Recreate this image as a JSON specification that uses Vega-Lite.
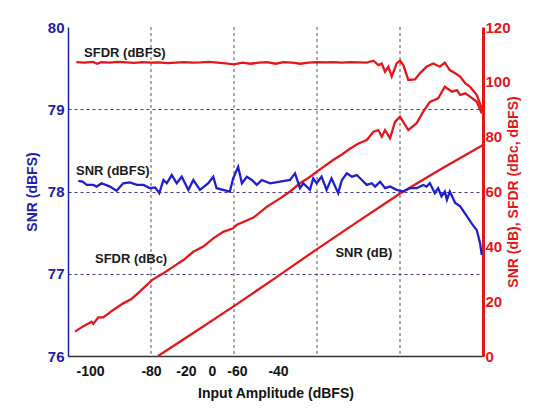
{
  "$schema": "https://vega.github.io/schema/vega-lite/v6.json",
  "width": 415,
  "height": 329,
  "autosize": {"type": "none"},
  "padding": {"left": 68, "top": 27, "right": 71, "bottom": 56},
  "background": "white",
  "config": {"view": {"stroke": null}, "font": "Liberation Sans"},
  "datasets": {
    "grid": [{"x": -80}, {"x": -60}, {"x": -40}, {"x": -20}],
    "labels": [
      {"label": "SFDR (dBFS)", "x": -86.3, "v": 110.5},
      {"label": "SNR (dBFS)", "x": -89.2, "v": 67.5},
      {"label": "SFDR (dBc)", "x": -84.8, "v": 35.4},
      {"label": "SNR (dB)", "x": -28.7, "v": 37.6}
    ],
    "snr_dbfs": [
      {"x": -97.5, "v": 78.13}, {"x": -96.5, "v": 78.12}, {"x": -95.5, "v": 78.08}, {"x": -93.9, "v": 78.08},
      {"x": -93.1, "v": 78.06}, {"x": -91.9, "v": 78.10}, {"x": -89.9, "v": 78.06}, {"x": -88.3, "v": 78.01},
      {"x": -86.7, "v": 78.10}, {"x": -85.1, "v": 78.11}, {"x": -83.4, "v": 78.08}, {"x": -81.8, "v": 78.08},
      {"x": -80.2, "v": 78.04}, {"x": -79.0, "v": 78.05}, {"x": -78.0, "v": 77.98}, {"x": -77.0, "v": 78.14},
      {"x": -76.2, "v": 78.10}, {"x": -75.0, "v": 78.20}, {"x": -73.8, "v": 78.10}, {"x": -72.6, "v": 78.18},
      {"x": -71.0, "v": 78.02}, {"x": -69.8, "v": 78.14}, {"x": -69.0, "v": 78.08}, {"x": -68.2, "v": 78.02},
      {"x": -66.2, "v": 78.10}, {"x": -65.0, "v": 78.18}, {"x": -64.2, "v": 78.04}, {"x": -61.0, "v": 78.00},
      {"x": -60.2, "v": 78.16}, {"x": -59.0, "v": 78.30}, {"x": -58.1, "v": 78.10}, {"x": -56.9, "v": 78.18},
      {"x": -55.7, "v": 78.14}, {"x": -54.5, "v": 78.08}, {"x": -53.3, "v": 78.14}, {"x": -51.3, "v": 78.10},
      {"x": -48.9, "v": 78.12}, {"x": -46.5, "v": 78.14}, {"x": -45.3, "v": 78.22}, {"x": -44.1, "v": 78.04},
      {"x": -43.3, "v": 78.10}, {"x": -41.7, "v": 78.02}, {"x": -40.9, "v": 78.16}, {"x": -40.1, "v": 78.10},
      {"x": -38.9, "v": 78.18}, {"x": -37.7, "v": 78.02}, {"x": -36.5, "v": 78.16}, {"x": -34.9, "v": 77.98},
      {"x": -34.0, "v": 78.14}, {"x": -32.8, "v": 78.22}, {"x": -31.6, "v": 78.18}, {"x": -30.4, "v": 78.20},
      {"x": -29.2, "v": 78.14}, {"x": -28.0, "v": 78.08}, {"x": -26.8, "v": 78.10}, {"x": -26.0, "v": 78.06},
      {"x": -24.8, "v": 78.12}, {"x": -23.6, "v": 78.04}, {"x": -22.4, "v": 78.06}, {"x": -20.8, "v": 78.02},
      {"x": -19.2, "v": 78.00}, {"x": -17.6, "v": 78.04}, {"x": -16.0, "v": 78.04}, {"x": -14.4, "v": 78.08},
      {"x": -13.6, "v": 78.06}, {"x": -12.8, "v": 78.10}, {"x": -11.6, "v": 77.98}, {"x": -10.8, "v": 78.04},
      {"x": -10.0, "v": 77.94}, {"x": -9.2, "v": 78.00}, {"x": -8.7, "v": 77.90}, {"x": -8.0, "v": 78.00},
      {"x": -6.7, "v": 77.86}, {"x": -5.5, "v": 77.82}, {"x": -4.3, "v": 77.73}, {"x": -2.7, "v": 77.61},
      {"x": -1.5, "v": 77.53}, {"x": -0.7, "v": 77.37}, {"x": -0.3, "v": 77.23}
    ],
    "sfdr_dbfs": [
      {"x": -98, "v": 107.2}, {"x": -96, "v": 107.0}, {"x": -94, "v": 107.3}, {"x": -93, "v": 106.6},
      {"x": -92, "v": 107.2}, {"x": -90, "v": 107.0}, {"x": -88, "v": 107.3}, {"x": -86, "v": 107.1},
      {"x": -84, "v": 106.9}, {"x": -82, "v": 107.2}, {"x": -80, "v": 107.0}, {"x": -78, "v": 107.1},
      {"x": -76, "v": 106.8}, {"x": -74, "v": 107.0}, {"x": -72, "v": 107.2}, {"x": -70, "v": 107.0},
      {"x": -68, "v": 107.1}, {"x": -66, "v": 107.3}, {"x": -64, "v": 107.0}, {"x": -62, "v": 106.7},
      {"x": -60, "v": 106.4}, {"x": -58, "v": 107.0}, {"x": -56, "v": 106.6}, {"x": -54, "v": 107.0},
      {"x": -52, "v": 107.2}, {"x": -50, "v": 106.6}, {"x": -48, "v": 107.2}, {"x": -46, "v": 107.0},
      {"x": -44, "v": 106.6}, {"x": -42, "v": 107.0}, {"x": -40, "v": 107.2}, {"x": -38, "v": 107.1},
      {"x": -36, "v": 107.2}, {"x": -34, "v": 107.0}, {"x": -32, "v": 107.2}, {"x": -30, "v": 107.1},
      {"x": -28, "v": 107.0}, {"x": -26.4, "v": 107.7}, {"x": -25.2, "v": 106.1}, {"x": -24.4, "v": 106.7},
      {"x": -23.6, "v": 103.7}, {"x": -22.8, "v": 105.5}, {"x": -22.0, "v": 101.9}, {"x": -20.8, "v": 106.7},
      {"x": -20.0, "v": 107.7}, {"x": -19.2, "v": 106.1}, {"x": -18.0, "v": 100.7}, {"x": -16.4, "v": 100.9},
      {"x": -15.2, "v": 103.1}, {"x": -13.6, "v": 105.5}, {"x": -12.0, "v": 106.7}, {"x": -10.4, "v": 105.5},
      {"x": -9.2, "v": 107.0}, {"x": -8.0, "v": 104.3}, {"x": -6.7, "v": 103.1}, {"x": -5.5, "v": 101.9},
      {"x": -4.3, "v": 99.5}, {"x": -3.1, "v": 98.2}, {"x": -1.5, "v": 95.2}, {"x": -0.3, "v": 90.3},
      {"x": 0, "v": 88.5}
    ],
    "sfdr_dbc": [
      {"x": -98.3, "v": 8.9}, {"x": -96.3, "v": 10.9}, {"x": -94.3, "v": 12.5}, {"x": -93.9, "v": 11.7},
      {"x": -92.7, "v": 14.1}, {"x": -91.5, "v": 14.1}, {"x": -89.1, "v": 16.8}, {"x": -86.7, "v": 19.2},
      {"x": -84.7, "v": 20.8}, {"x": -82.7, "v": 23.5}, {"x": -79.8, "v": 27.7}, {"x": -77.0, "v": 30.2},
      {"x": -74.6, "v": 32.6}, {"x": -72.2, "v": 35.0}, {"x": -69.8, "v": 38.0}, {"x": -67.4, "v": 39.9},
      {"x": -65.0, "v": 42.9}, {"x": -62.6, "v": 45.3}, {"x": -60.2, "v": 46.6}, {"x": -59.4, "v": 47.8},
      {"x": -55.3, "v": 50.5}, {"x": -52.1, "v": 54.4}, {"x": -48.9, "v": 57.5}, {"x": -46.5, "v": 60.0},
      {"x": -44.1, "v": 63.0}, {"x": -42.0, "v": 65.0}, {"x": -39.7, "v": 67.6}, {"x": -36.1, "v": 71.5},
      {"x": -34.0, "v": 73.5}, {"x": -32.0, "v": 75.7}, {"x": -30.0, "v": 77.5}, {"x": -28.0, "v": 78.8},
      {"x": -26.4, "v": 81.8}, {"x": -25.2, "v": 82.4}, {"x": -24.4, "v": 80.0}, {"x": -23.6, "v": 82.4},
      {"x": -22.4, "v": 79.4}, {"x": -21.2, "v": 85.4}, {"x": -20.0, "v": 87.3}, {"x": -18.0, "v": 82.4},
      {"x": -16.0, "v": 84.9}, {"x": -14.4, "v": 89.1}, {"x": -12.8, "v": 92.7}, {"x": -10.8, "v": 94.0},
      {"x": -9.2, "v": 98.2}, {"x": -7.5, "v": 96.4}, {"x": -6.3, "v": 97.0}, {"x": -5.5, "v": 95.2},
      {"x": -4.3, "v": 95.8}, {"x": -3.1, "v": 94.6}, {"x": -1.5, "v": 92.7}, {"x": -0.3, "v": 88.5}
    ],
    "snr_db": [
      {"x": -78.3, "v": 0}, {"x": -70, "v": 8.2}, {"x": -60, "v": 18.2}, {"x": -50, "v": 28.5},
      {"x": -40, "v": 39.0}, {"x": -30, "v": 49.2}, {"x": -20, "v": 59.3}, {"x": -10, "v": 68.3},
      {"x": 0, "v": 77.0}
    ]
  },
  "layer": [
    {
      "layer": [
        {
          "data": {"name": "grid"},
          "mark": {"type": "rule", "color": "#555555", "strokeDash": [3, 3], "strokeWidth": 1},
          "encoding": {
            "x": {"field": "x", "type": "quantitative", "scale": {"domain": [-100, 0], "nice": false}}
          }
        },
        {
          "data": {"name": "sfdr_dbfs"},
          "mark": {"type": "line", "color": "#e3161b", "strokeWidth": 2.3},
          "encoding": {
            "x": {"field": "x", "type": "quantitative", "scale": {"domain": [-100, 0], "nice": false}},
            "y": {
              "field": "v", "type": "quantitative",
              "scale": {"domain": [0, 120], "nice": false},
              "axis": {
                "orient": "right",
                "values": [0, 20, 40, 60, 80, 100, 120],
                "title": "SNR (dB), SFDR (dBc, dBFS)",
                "titleAngle": 270,
                "titleColor": "#e3161b",
                "titleFontSize": 14,
                "titleFontWeight": "bold",
                "titlePadding": 10,
                "labelColor": "#e3161b",
                "labelFontSize": 15,
                "labelFontWeight": "bold",
                "labelPadding": 2,
                "ticks": false,
                "grid": false,
                "domainColor": "#e3161b",
                "domainWidth": 3
              }
            }
          }
        },
        {
          "data": {"name": "sfdr_dbc"},
          "mark": {"type": "line", "color": "#e3161b", "strokeWidth": 2.3},
          "encoding": {
            "x": {"field": "x", "type": "quantitative", "scale": {"domain": [-100, 0], "nice": false}},
            "y": {"field": "v", "type": "quantitative", "scale": {"domain": [0, 120], "nice": false}}
          }
        },
        {
          "data": {"name": "snr_db"},
          "mark": {"type": "line", "color": "#e3161b", "strokeWidth": 2.3},
          "encoding": {
            "x": {"field": "x", "type": "quantitative", "scale": {"domain": [-100, 0], "nice": false}},
            "y": {"field": "v", "type": "quantitative", "scale": {"domain": [0, 120], "nice": false}}
          }
        },
        {
          "data": {"name": "labels"},
          "mark": {"type": "text", "fontSize": 13, "fontWeight": "bold", "color": "#1a1a1a", "align": "center", "baseline": "middle"},
          "encoding": {
            "x": {"field": "x", "type": "quantitative", "scale": {"domain": [-100, 0], "nice": false}},
            "y": {"field": "v", "type": "quantitative", "scale": {"domain": [0, 120], "nice": false}},
            "text": {"field": "label"}
          }
        }
      ]
    },
    {
      "data": {"name": "snr_dbfs"},
      "mark": {"type": "line", "color": "#1f1fd0", "strokeWidth": 2.3},
      "encoding": {
        "x": {
          "field": "x", "type": "quantitative",
          "scale": {"domain": [-100, 0], "nice": false},
          "axis": {
            "title": "Input Amplitude (dBFS)",
            "titleFontSize": 14,
            "titleFontWeight": "bold",
            "titleColor": "#111111",
            "titlePadding": 8,
            "values": [-94.7, -80, -71.6, -65.3, -59.3, -49.4],
            "labelExpr": "datum.value < -90 ? '-100' : datum.value < -75 ? '-80' : datum.value < -68 ? '-20' : datum.value < -62 ? '0' : datum.value < -55 ? '-60' : '-40'",
            "labelFontSize": 14,
            "labelFontWeight": "bold",
            "labelColor": "#111111",
            "labelPadding": 8,
            "labelFlush": false,
            "labelOverlap": false,
            "ticks": false,
            "grid": false,
            "domainColor": "#333333",
            "domainWidth": 1.5
          }
        },
        "y": {
          "field": "v", "type": "quantitative",
          "scale": {"domain": [76, 80], "nice": false},
          "axis": {
            "orient": "left",
            "values": [76, 77, 78, 79, 80],
            "format": "d",
            "title": "SNR (dBFS)",
            "titleColor": "#2020aa",
            "titleFontSize": 14,
            "titleFontWeight": "bold",
            "titlePadding": 8,
            "labelColor": "#2020aa",
            "labelFontSize": 15,
            "labelFontWeight": "bold",
            "labelPadding": 4,
            "ticks": false,
            "grid": true,
            "gridColor": "#3c3c86",
            "gridDash": [3, 3],
            "gridWidth": 1,
            "gridOpacity": {"condition": {"test": "datum.value >= 80", "value": 0}, "value": 1},
            "domainColor": "#2020aa",
            "domainWidth": 1.5
          }
        }
      }
    }
  ],
  "resolve": {"scale": {"y": "independent"}}
}
